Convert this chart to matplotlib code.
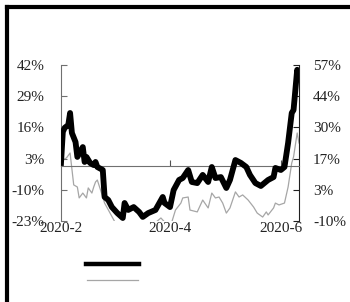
import matplotlib
matplotlib.use("Agg")
import matplotlib.pyplot as plt
import matplotlib.dates as mdates
from matplotlib.lines import Line2D
import numpy as np
import pandas as pd

plt.rcParams['font.family'] = ['Liberation Serif', 'DejaVu Serif']

# Black series (left axis, %) : day offset from 2020-02-01, value
black_days = [0, 1, 2, 4, 5, 6, 8, 9, 12, 13, 14, 16, 18, 19, 20, 23, 24, 26, 28, 31,
              34, 35, 37, 40, 43, 45, 48, 52, 56, 57, 60, 62, 65, 67, 70, 72, 75, 78,
              81, 83, 85, 88, 91, 93, 96, 99, 102, 104, 107, 110, 114, 117, 118, 121,
              123, 125, 127, 128, 130, 131]
black_vals = [1.2, 14.1, 15.8, 17.0, 22.0, 13.7, 9.9, 3.7, 7.8, 1.6, 3.7, 1.2, 0.3, 1.6,
              -0.5, -1.75, -13.0, -14.25, -17.2, -19.7, -21.75, -15.5, -18.4, -17.2,
              -19.25, -21.3, -19.7, -18.4, -13.0, -15.5, -17.2, -10.1, -5.9, -5.1, -1.75,
              -6.75, -7.2, -3.8, -6.75, -0.5, -5.1, -4.7, -9.25, -5.9, 2.4, 1.2, -0.5,
              -3.8, -7.2, -8.4, -5.9, -4.7, -0.9, -1.75, -0.5, 9.5, 22.0, 23.25, 40.0, 37.5]

# Gray series (right axis, %)
gray_days = [0, 1, 3, 5, 7, 9, 10, 12, 14, 15, 17, 18, 19, 20, 23, 24, 27, 30, 33, 38,
             44, 50, 55, 57, 61, 63, 66, 67, 70, 71, 75, 78, 81, 83, 85, 87, 89, 91, 93,
             96, 98, 100, 103, 106, 108, 111, 113, 114, 117, 118, 120, 123, 125, 127,
             128, 130, 131]
gray_vals = [13.2, 16.2, 17.1, 19.2, 5.5, 4.6, -0.1, 2.0, -0.1, 4.2, 2.0, 4.6, 6.75, 7.6,
             0.3, -2.3, -6.6, -10.9, -13.0, -14.0, -13.0, -12.0, -8.7, -10.4, -10.4, -5.3,
             -2.3, -0.1, 0.3, -5.3, -6.1, -1.0, -4.4, 2.0, -0.1, 0.3, -2.3, -6.6, -4.4,
             2.5, 0.3, 1.2, -1.0, -4.0, -6.6, -8.3, -6.1, -7.4, -4.4, -2.3, -3.1, -2.3,
             4.6, 14.9, 17.5, 27.8, 23.5]

start_date = "2020-02-01"
x_ticks = ["2020-02-01", "2020-04-01", "2020-06-01"]
x_tick_labels = ["2020-2", "2020-4", "2020-6"]
x_end = "2020-06-11"
left_ticks = np.linspace(-23, 42, 6)
right_ticks = np.linspace(-10, 57, 6)

t0 = pd.Timestamp(start_date)
bx = mdates.date2num([t0 + pd.Timedelta(days=d) for d in black_days])
gx = mdates.date2num([t0 + pd.Timedelta(days=d) for d in gray_days])
xt = mdates.date2num(pd.to_datetime(x_ticks))

W, H = 350, 302
fig = plt.figure(figsize=(W / 100, H / 100), dpi=100)
ax = fig.add_axes([61 / W, 1 - 221 / H, 238 / W, 156 / H])
ax2 = ax.twinx()

ax2.plot(gx, gray_vals, color='#a6a6a6', lw=0.9, zorder=2)
ax.plot(bx, black_vals, color='black', lw=4.2, solid_joinstyle='round', zorder=3)
ax.set_zorder(ax2.get_zorder() + 1)
ax.patch.set_visible(False)

ax.set_xlim(mdates.date2num(t0), mdates.date2num(pd.Timestamp(x_end)))
ax.set_ylim(-23, 42)
ax2.set_ylim(-10, 57)

ax.set_yticks(left_ticks)
ax.set_yticklabels([f"{v:.0f}%" for v in left_ticks])
ax2.set_yticks(right_ticks)
ax2.set_yticklabels([f"{v:.0f}%" for v in right_ticks])

for a in (ax, ax2):
    a.spines['top'].set_visible(False)
ax.spines['right'].set_visible(False)
ax2.spines['left'].set_visible(False)
ax2.spines['bottom'].set_visible(False)
ax.spines['left'].set_color('#707070')
ax2.spines['right'].set_color('#202020')
ax.spines['bottom'].set_position(('data', 0))
ax.spines['bottom'].set_color('#707070')

ax.set_xticks(xt)
ax.tick_params(axis='x', direction='in', length=4, color='#505050', labelbottom=False)
ax.tick_params(axis='y', direction='in', length=4, color='#707070', pad=12,
               labelsize=11, labelcolor='#222222')
ax2.tick_params(axis='y', direction='in', length=4, color='#202020', pad=10,
                labelsize=11, labelcolor='#222222')

ax2.xaxis.set_visible(True)
ax2.set_xticks(xt)
ax2.set_xticklabels(x_tick_labels)
ax2.tick_params(axis='x', length=0, pad=1, labelsize=11, labelcolor='#222222')

# legend swatches (labels empty)
fig.add_artist(Line2D([86 / W, 139 / W], [1 - 264 / H] * 2, color='black', lw=3.2,
                      transform=fig.transFigure))
fig.add_artist(Line2D([87 / W, 138 / W], [1 - 280 / H] * 2, color='#a6a6a6', lw=0.9,
                      transform=fig.transFigure))

# outer frame (left and top edges visible)
fig.add_artist(Line2D([7 / W, 7 / W], [0, 1 - 7 / H], color='black', lw=3.0,
                      transform=fig.transFigure, solid_capstyle='projecting'))
fig.add_artist(Line2D([7 / W, 1], [1 - 7 / H, 1 - 7 / H], color='black', lw=3.0,
                      transform=fig.transFigure, solid_capstyle='projecting'))

fig.savefig("out.png", dpi=100)
